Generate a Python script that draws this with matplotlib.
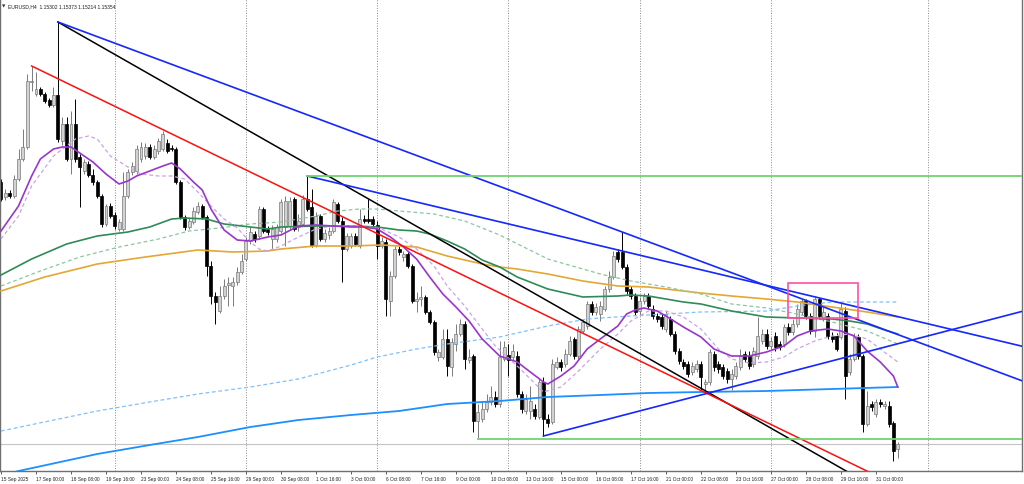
import matplotlib
matplotlib.use("Agg")
import matplotlib.pyplot as plt
from matplotlib.patches import Rectangle

# EURUSD H4 candles, bar 0 = 15 Sep 16:00 ... bar 205 = 31 Oct 20:00
o = [
1.1797, 1.1782, 1.1786, 1.1783, 1.1800, 1.1820, 1.1832, 1.1897, 1.1885, 1.1890,
1.1885, 1.1879, 1.1874, 1.1884, 1.1838, 1.1855, 1.1820, 1.1855, 1.1822, 1.1808,
1.1815, 1.1804, 1.1797, 1.1783, 1.1755, 1.1773, 1.1764, 1.1750, 1.1750, 1.1783,
1.1807, 1.1808, 1.1820, 1.1823, 1.1832, 1.1822, 1.1828, 1.1830, 1.1836, 1.1831,
1.1830, 1.1797, 1.1762, 1.1752, 1.1757, 1.1767, 1.1773, 1.1762, 1.1713, 1.1683,
1.1668, 1.1683, 1.1694, 1.1693, 1.1697, 1.1707, 1.1720, 1.1738, 1.1745, 1.1743,
1.1770, 1.1750, 1.1740, 1.1740, 1.1748, 1.1752, 1.1753, 1.1780, 1.1752, 1.1755,
1.1780, 1.1772, 1.1734, 1.1763, 1.1740, 1.1744, 1.1748, 1.1775, 1.1758, 1.1730,
1.1733, 1.1743, 1.1733, 1.1760, 1.1760, 1.1760, 1.1754, 1.1733, 1.1737, 1.1678,
1.1703, 1.1730, 1.1722, 1.1725, 1.1713, 1.1678, 1.1680, 1.1682, 1.1667, 1.1657,
1.1622, 1.1622, 1.1640, 1.1612, 1.1635, 1.1645, 1.1655, 1.1619, 1.1623, 1.1558,
1.1560, 1.1570, 1.1577, 1.1582, 1.1575, 1.1620, 1.1624, 1.1622, 1.1623, 1.1585,
1.1568, 1.1568, 1.1570, 1.1562, 1.1597, 1.1560, 1.1557, 1.1612, 1.1617, 1.1615,
1.1625, 1.1640, 1.1623, 1.1648, 1.1653, 1.1675, 1.1667, 1.1665, 1.1670, 1.1690,
1.1702, 1.1727, 1.1727, 1.1712, 1.1690, 1.1683, 1.1668, 1.1678, 1.1683, 1.1670,
1.1663, 1.1662, 1.1650, 1.1660, 1.1645, 1.1628, 1.1617, 1.1615, 1.1607, 1.1610,
1.1615, 1.1595, 1.1597, 1.1625, 1.1615, 1.1612, 1.1608, 1.1600, 1.1603, 1.1612,
1.1625, 1.1623, 1.1615, 1.1623, 1.1638, 1.1645, 1.1633, 1.1643, 1.1635, 1.1635,
1.1652, 1.1647, 1.1655, 1.1667, 1.1678, 1.1663, 1.1648, 1.1680, 1.1660, 1.1663,
1.1643, 1.1643, 1.1642, 1.1668, 1.1607, 1.1620, 1.1642, 1.1623, 1.1555, 1.1575,
1.1565, 1.1577, 1.1573, 1.1573, 1.1556, 1.15302]
h = [
1.1800, 1.1790, 1.1789, 1.1804, 1.1830, 1.1850, 1.1905, 1.1913, 1.1907, 1.1892,
1.1887, 1.1881, 1.1892, 1.1957, 1.1862, 1.1862, 1.1868, 1.1880, 1.1825, 1.1820,
1.1818, 1.1810, 1.1799, 1.1785, 1.1775, 1.1776, 1.1767, 1.1760, 1.1807, 1.1810,
1.1817, 1.1834, 1.1837, 1.1836, 1.1835, 1.1834, 1.1841, 1.1848, 1.1840, 1.1834,
1.1832, 1.1799, 1.1764, 1.1761, 1.1772, 1.1777, 1.1775, 1.1764, 1.1718, 1.1687,
1.1693, 1.1700, 1.1702, 1.1702, 1.1712, 1.1725, 1.1742, 1.1752, 1.1748, 1.1773,
1.1772, 1.1753, 1.1754, 1.1755, 1.1780, 1.1783, 1.1782, 1.1782, 1.1765, 1.1784,
1.1803, 1.1790, 1.1767, 1.1765, 1.1750, 1.1752, 1.1780, 1.1777, 1.1762, 1.1746,
1.1746, 1.1746, 1.1770, 1.1764, 1.1780, 1.1763, 1.1758, 1.1742, 1.1740, 1.1708,
1.1733, 1.1733, 1.1728, 1.1727, 1.1715, 1.1687, 1.1693, 1.1684, 1.1669, 1.1659,
1.1630, 1.1650, 1.1650, 1.1641, 1.1655, 1.1660, 1.1658, 1.1630, 1.1625, 1.1575,
1.1578, 1.1585, 1.1593, 1.1588, 1.1638, 1.1638, 1.1635, 1.1635, 1.1628, 1.1588,
1.1585, 1.1593, 1.1575, 1.1600, 1.1602, 1.1565, 1.1620, 1.1622, 1.1620, 1.1630,
1.1643, 1.1642, 1.1653, 1.1660, 1.1678, 1.1678, 1.1676, 1.1678, 1.1693, 1.1708,
1.1728, 1.1730, 1.1747, 1.1715, 1.1693, 1.1686, 1.1682, 1.1686, 1.1686, 1.1674,
1.1666, 1.1665, 1.1668, 1.1663, 1.1648, 1.1631, 1.1620, 1.1618, 1.1617, 1.1619,
1.1618, 1.1600, 1.1630, 1.1628, 1.1618, 1.1615, 1.1611, 1.1610, 1.1617, 1.1630,
1.1628, 1.1628, 1.1632, 1.1662, 1.1650, 1.1650, 1.1642, 1.1647, 1.1638, 1.1655,
1.1656, 1.1660, 1.1675, 1.1680, 1.1680, 1.1666, 1.1682, 1.1681, 1.1672, 1.1666,
1.1647, 1.1646, 1.1677, 1.1672, 1.1625, 1.1646, 1.1645, 1.1625, 1.1588, 1.1578,
1.1580, 1.1580, 1.1578, 1.1578, 1.1558, 1.15373]
l = [
1.1778, 1.1779, 1.1781, 1.1781, 1.1798, 1.1818, 1.1830, 1.1888, 1.1883, 1.1883,
1.1876, 1.1872, 1.1872, 1.1837, 1.1834, 1.1818, 1.1805, 1.1817, 1.1772, 1.1805,
1.1802, 1.1794, 1.1781, 1.1752, 1.1753, 1.1761, 1.1750, 1.1748, 1.1748, 1.1781,
1.1804, 1.1805, 1.1817, 1.1820, 1.1820, 1.1820, 1.1825, 1.1828, 1.1826, 1.1828,
1.1795, 1.1760, 1.1749, 1.1750, 1.1755, 1.1765, 1.1760, 1.1703, 1.1675, 1.1655,
1.1666, 1.1680, 1.1673, 1.1673, 1.1694, 1.1705, 1.1718, 1.1735, 1.1737, 1.1740,
1.1746, 1.1744, 1.1730, 1.1737, 1.1746, 1.1733, 1.1750, 1.1748, 1.1748, 1.1753,
1.1768, 1.1732, 1.1732, 1.1738, 1.1737, 1.1740, 1.1746, 1.1756, 1.1697, 1.1728,
1.1731, 1.1733, 1.1731, 1.1756, 1.1756, 1.1753, 1.1720, 1.1731, 1.1663, 1.1663,
1.1701, 1.1724, 1.1718, 1.1711, 1.1676, 1.1667, 1.1673, 1.1665, 1.1655, 1.1624,
1.1618, 1.1620, 1.1603, 1.1603, 1.1628, 1.1643, 1.1610, 1.1616, 1.1547, 1.1540,
1.1557, 1.1567, 1.1574, 1.1572, 1.1572, 1.1618, 1.1603, 1.1619, 1.1582, 1.1566,
1.1565, 1.1560, 1.1560, 1.1560, 1.1543, 1.1552, 1.1555, 1.1610, 1.1608, 1.1612,
1.1623, 1.1620, 1.1620, 1.1646, 1.1650, 1.1664, 1.1664, 1.1658, 1.1668, 1.1687,
1.1700, 1.1717, 1.1710, 1.1685, 1.1680, 1.1664, 1.1664, 1.1675, 1.1670, 1.1660,
1.1657, 1.1650, 1.1647, 1.1643, 1.1625, 1.1615, 1.1610, 1.1602, 1.1604, 1.1607,
1.1589, 1.1587, 1.1594, 1.1608, 1.1606, 1.1600, 1.1596, 1.1589, 1.1600, 1.1609,
1.1617, 1.1610, 1.1612, 1.1620, 1.1635, 1.1630, 1.1630, 1.1628, 1.1629, 1.1632,
1.1644, 1.1644, 1.1652, 1.1664, 1.1660, 1.1645, 1.1642, 1.1660, 1.1658, 1.1640,
1.1637, 1.1628, 1.1640, 1.1580, 1.1604, 1.1618, 1.1620, 1.1547, 1.1553, 1.1568,
1.1562, 1.1572, 1.1570, 1.1552, 1.1518, 1.15214]
c = [
1.1780, 1.1786, 1.1783, 1.1800, 1.1820, 1.1832, 1.1898, 1.1898, 1.1890, 1.1885,
1.1878, 1.1874, 1.1884, 1.1840, 1.1855, 1.1820, 1.1855, 1.1820, 1.1812, 1.1817,
1.1804, 1.1797, 1.1783, 1.1755, 1.1773, 1.1763, 1.1753, 1.1757, 1.1783, 1.1807,
1.1813, 1.1830, 1.1832, 1.1832, 1.1822, 1.1830, 1.1838, 1.1845, 1.1828, 1.1830,
1.1797, 1.1762, 1.1752, 1.1758, 1.1768, 1.1773, 1.1762, 1.1713, 1.1683, 1.1677,
1.1683, 1.1693, 1.1696, 1.1697, 1.1707, 1.1718, 1.1738, 1.1747, 1.1740, 1.1770,
1.1748, 1.1747, 1.1750, 1.1752, 1.1777, 1.1778, 1.1778, 1.1750, 1.1758, 1.1780,
1.1770, 1.1734, 1.1763, 1.1740, 1.1746, 1.1748, 1.1777, 1.1758, 1.1730, 1.1743,
1.1743, 1.1735, 1.1760, 1.1758, 1.1758, 1.1755, 1.1733, 1.1738, 1.1680, 1.1703,
1.1730, 1.1727, 1.1725, 1.1713, 1.1678, 1.1680, 1.1682, 1.1667, 1.1657, 1.1627,
1.1627, 1.1640, 1.1613, 1.1637, 1.1645, 1.1655, 1.1620, 1.1622, 1.1558, 1.1567,
1.1570, 1.1577, 1.1582, 1.1575, 1.1622, 1.1632, 1.1619, 1.1628, 1.1585, 1.1570,
1.1580, 1.1578, 1.1563, 1.1597, 1.1560, 1.1556, 1.1615, 1.1617, 1.1612, 1.1625,
1.1638, 1.1623, 1.1650, 1.1657, 1.1675, 1.1667, 1.1672, 1.1673, 1.1690, 1.1702,
1.1723, 1.1720, 1.1712, 1.1688, 1.1683, 1.1667, 1.1678, 1.1683, 1.1673, 1.1663,
1.1660, 1.1653, 1.1665, 1.1645, 1.1628, 1.1618, 1.1613, 1.1605, 1.1613, 1.1615,
1.1602, 1.1597, 1.1627, 1.1612, 1.1610, 1.1603, 1.1600, 1.1605, 1.1613, 1.1623,
1.1620, 1.1613, 1.1628, 1.1643, 1.1645, 1.1633, 1.1638, 1.1632, 1.1632, 1.1652,
1.1647, 1.1655, 1.1670, 1.1678, 1.1663, 1.1648, 1.1680, 1.1663, 1.1667, 1.1643,
1.1640, 1.1630, 1.1670, 1.1603, 1.1620, 1.1643, 1.1623, 1.1555, 1.1573, 1.1572,
1.1577, 1.1575, 1.1575, 1.1555, 1.1528, 1.15354]

tick_bars = list(range(0, 201, 8))
tick_labels = ["15 Sep 2025", "17 Sep 00:00", "18 Sep 08:00", "19 Sep 16:00",
               "23 Sep 00:00", "24 Sep 08:00", "25 Sep 16:00", "29 Sep 00:00",
               "30 Sep 08:00", "1 Oct 16:00", "3 Oct 00:00", "6 Oct 08:00",
               "7 Oct 16:00", "9 Oct 00:00", "10 Oct 08:00", "13 Oct 16:00",
               "15 Oct 00:00", "16 Oct 08:00", "17 Oct 16:00", "21 Oct 00:00",
               "22 Oct 08:00", "23 Oct 16:00", "27 Oct 00:00", "28 Oct 08:00",
               "29 Oct 16:00", "31 Oct 00:00"]
separators = [26, 56, 86, 116, 146, 176, 212]

# moving averages at these bars
fast_x = [0, 4, 7, 9, 12, 14, 16, 19, 21, 24, 27, 29, 31, 34, 37, 39, 41, 44, 46, 48,
          51, 54, 57, 59, 61, 64, 68, 72, 76, 80, 83, 86, 89, 92, 95, 98, 101, 104, 107, 110,
          114, 118, 121, 124, 125, 128, 131, 134, 137, 141, 143, 145, 147, 150, 152, 156, 160, 163, 167, 171,
          175, 179, 182, 185, 189, 192, 195, 198, 201, 204, 205]
fast = [1.1748, 1.1773, 1.1803, 1.1820, 1.1830, 1.1832, 1.1832, 1.1823, 1.1817, 1.1805,
        1.1795, 1.1798, 1.1803, 1.1808, 1.1813, 1.1816, 1.1810, 1.1797, 1.1789, 1.1770,
        1.1749, 1.1739, 1.1738, 1.1740, 1.1742, 1.1744, 1.1753, 1.1754, 1.1753, 1.1752,
        1.1752, 1.1750, 1.1742, 1.1732, 1.1720, 1.1702, 1.1685, 1.1672, 1.1658, 1.1640,
        1.1623, 1.1617, 1.1607, 1.1597, 1.1595, 1.1603, 1.1613, 1.1630, 1.1640, 1.1653,
        1.1665, 1.1669, 1.1671, 1.1668, 1.1663, 1.1652, 1.1642, 1.1630, 1.1623, 1.1623,
        1.1627, 1.1633, 1.1643, 1.1648, 1.1650, 1.1648, 1.1643, 1.1628, 1.1617, 1.1603,
        1.1592]
fast2_x = [0, 4, 7, 12, 17, 20, 22, 25, 29, 32, 36, 39, 42, 45, 48, 51, 54, 57, 59, 61,
           64, 68, 72, 76, 80, 83, 87, 91, 95, 99, 102, 106, 110, 113, 118, 121, 124, 128, 132, 137,
           141, 144, 148, 152, 156, 160, 164, 167, 171, 175, 179, 182, 186, 190, 194, 198, 201, 205]
fast2 = [1.1740, 1.1763, 1.1793, 1.1823, 1.1840, 1.1843, 1.1840, 1.1823, 1.1812, 1.1805,
         1.1803, 1.1803, 1.1800, 1.1787, 1.1773, 1.1760, 1.1751, 1.1737, 1.1730, 1.1728,
         1.1733, 1.1742, 1.1750, 1.1753, 1.1753, 1.1753, 1.1750, 1.1742, 1.1730, 1.1713,
         1.1693, 1.1673, 1.1650, 1.1633, 1.1613, 1.1600, 1.1587, 1.1592, 1.1608, 1.1630,
         1.1645, 1.1658, 1.1668, 1.1668, 1.1662, 1.1650, 1.1630, 1.1620, 1.1616, 1.1617,
         1.1622, 1.1630, 1.1638, 1.1643, 1.1645, 1.1640, 1.1630, 1.1617]
mid_x = [0, 7, 15, 22, 29, 34, 39, 42, 47, 51, 57, 61, 64, 72, 80, 86, 91, 95, 98, 102,
         106, 110, 114, 118, 125, 133, 141, 144, 148, 152, 156, 160, 167, 175, 182, 190, 194, 198, 202, 205]
mid = [1.1704, 1.1720, 1.1735, 1.1743, 1.1747, 1.1752, 1.1760, 1.1761, 1.1760, 1.1755,
       1.1752, 1.1750, 1.1752, 1.1753, 1.1753, 1.1752, 1.1749, 1.1748, 1.1745, 1.1738,
       1.1730, 1.1719, 1.1712, 1.1702, 1.1690, 1.1682, 1.1683, 1.1684, 1.1683, 1.1680,
       1.1677, 1.1675, 1.1668, 1.1662, 1.1661, 1.1660, 1.1658, 1.1655, 1.1649, 1.1645]
mid2_x = [0, 9, 18, 27, 36, 43, 50, 57, 64, 72, 77, 82, 86, 91, 99, 106, 114, 125, 137, 144,
          152, 160, 167, 175, 182, 190, 198, 205]
mid2 = [1.1693, 1.1708, 1.1722, 1.1732, 1.1740, 1.1748, 1.1751, 1.1755, 1.1757, 1.1763,
        1.1768, 1.1770, 1.1770, 1.1768, 1.1765, 1.1758, 1.1744, 1.1720, 1.1705, 1.1698,
        1.1692, 1.1685, 1.1675, 1.1671, 1.1665, 1.1657, 1.1648, 1.1635]
slow_x = [0, 10, 22, 33, 45, 53, 61, 64, 72, 80, 87, 95, 102, 110, 114, 118, 125, 133, 141, 148,
          156, 160, 167, 175, 182, 190, 198, 205]
slow = [1.1688, 1.1702, 1.1715, 1.1722, 1.1729, 1.1727, 1.1728, 1.1730, 1.1733, 1.1733,
        1.1734, 1.1732, 1.1723, 1.1715, 1.1712, 1.1710, 1.1705, 1.1698, 1.1693, 1.1692,
        1.1688, 1.1686, 1.1683, 1.1680, 1.1677, 1.1672, 1.1667, 1.1662]
long_x = [0, 4, 22, 34, 45, 57, 68, 80, 91, 102, 114, 125, 137, 148, 160, 175, 190, 205]
long_ma = [1.1503, 1.1508, 1.1525, 1.1534, 1.1542, 1.1552, 1.1559, 1.1564, 1.1568, 1.1575,
           1.1578, 1.1582, 1.1584, 1.1586, 1.1587, 1.1588, 1.1590, 1.1592]
long2_x = [0, 11, 22, 34, 45, 57, 68, 80, 86, 95, 102, 114, 125, 134, 144, 152, 160, 175, 182, 190,
           198, 205]
long2 = [1.1548, 1.1558, 1.1568, 1.1577, 1.1585, 1.1592, 1.1600, 1.1614, 1.1622, 1.1630,
         1.1635, 1.1642, 1.1653, 1.1660, 1.1663, 1.1665, 1.1667, 1.1668, 1.1673, 1.1677,
         1.1677, 1.1677]

# drawn objects: (bar, price) anchors, rays run to the right edge
black_ray = [(13, 1.1957), (192, 1.1511)]
red_ray = [(7, 1.1913), (197, 1.1510)]
blue_rays = [[(13, 1.1957), (142, 1.1747)],
             [(70, 1.1803), (142, 1.1728)],
             [(124, 1.1543), (160, 1.1584)]]
green_levels = [(70, 1.1803), (109, 1.1540)]
box = (180, 196, 1.1661, 1.1696)

XMAX = 233.4
fig = plt.figure(figsize=(10.24, 4.85), dpi=100)
ax = fig.add_axes([0, 13 / 485, 1022 / 1024, 472 / 485])
ax.set_xlim(-0.23, XMAX)
ax.set_ylim(1.1508, 1.1980)

for s in separators:
    ax.axvline(s, color="#8a8a8a", lw=0.7, ls=(0, (1, 1.6)), zorder=1)

ax.axhline(c[-1], color="#c4c4c4", lw=0.8, zorder=1)

for i in range(len(c)):
    up = c[i] >= o[i]
    face = "#d2d2d2" if up else "black"
    edge = "#7a7a7a" if up else "black"
    ax.vlines(i, l[i], h[i], color=edge, lw=0.7, zorder=2)
    bot = min(o[i], c[i])
    hgt = max(abs(c[i] - o[i]), 0.00004)
    ax.bar(i, hgt, bottom=bot, width=0.68, color=face, edgecolor=edge,
           linewidth=0.5, zorder=2.1)

dash = (0, (3, 2.2))
ax.plot(long2_x, long2, color="#7fbfff", lw=0.9, ls=dash, zorder=3)
ax.plot(long_x, long_ma, color="#1e8fff", lw=1.3, zorder=3)
ax.plot(slow_x, slow, color="#e3a733", lw=1.2, zorder=3)
ax.plot(mid2_x, mid2, color="#8cc6a0", lw=0.9, ls=dash, zorder=3)
ax.plot(mid_x, mid, color="#2e8b57", lw=1.2, zorder=3)
ax.plot(fast2_x, fast2, color="#c9a3e6", lw=0.9, ls=dash, zorder=3)
ax.plot(fast_x, fast, color="#9a35cc", lw=1.2, zorder=3)


def ray(p1, p2, **kw):
    k = (p2[1] - p1[1]) / (p2[0] - p1[0])
    ax.plot([p1[0], XMAX], [p1[1], p1[1] + k * (XMAX - p1[0])], **kw)


ray(*black_ray, color="black", lw=1.1, zorder=4)
ray(*red_ray, color="#ff1010", lw=1.1, zorder=4)
for r in blue_rays:
    ray(*r, color="#1428ff", lw=1.2, zorder=4)
for b, p in green_levels:
    ax.plot([b, XMAX], [p, p], color="#6fd36f", lw=1.3, zorder=4)

ax.add_patch(Rectangle((box[0], box[2]), box[1] - box[0], box[3] - box[2],
                       fill=False, edgecolor="#ff4fa3", lw=1.2, zorder=5))

ax.set_yticks([])
ax.set_xticks(tick_bars)
ax.set_xticklabels(tick_labels, ha="left", fontsize=3.4, family="Liberation Sans",
                   color="#202020")
ax.tick_params(axis="x", length=2.5, width=0.6, color="#404040", pad=1.2)
ax.spines["top"].set_visible(False)
for side in ("left", "right", "bottom"):
    ax.spines[side].set_color("#707070")
    ax.spines[side].set_linewidth(1.0)

fig.text(2 / 1024, 1 - 7 / 485, "\u25bc", fontsize=3.2, va="center",
         family=["DejaVu Sans"], color="#303030")
fig.text(8 / 1024, 1 - 7 / 485, "EURUSD,H4  1.15302 1.15373 1.15214 1.15354",
         fontsize=3.6, va="center", family=["Liberation Sans", "DejaVu Sans"],
         color="#202020")

fig.savefig("out.png", dpi=100)
